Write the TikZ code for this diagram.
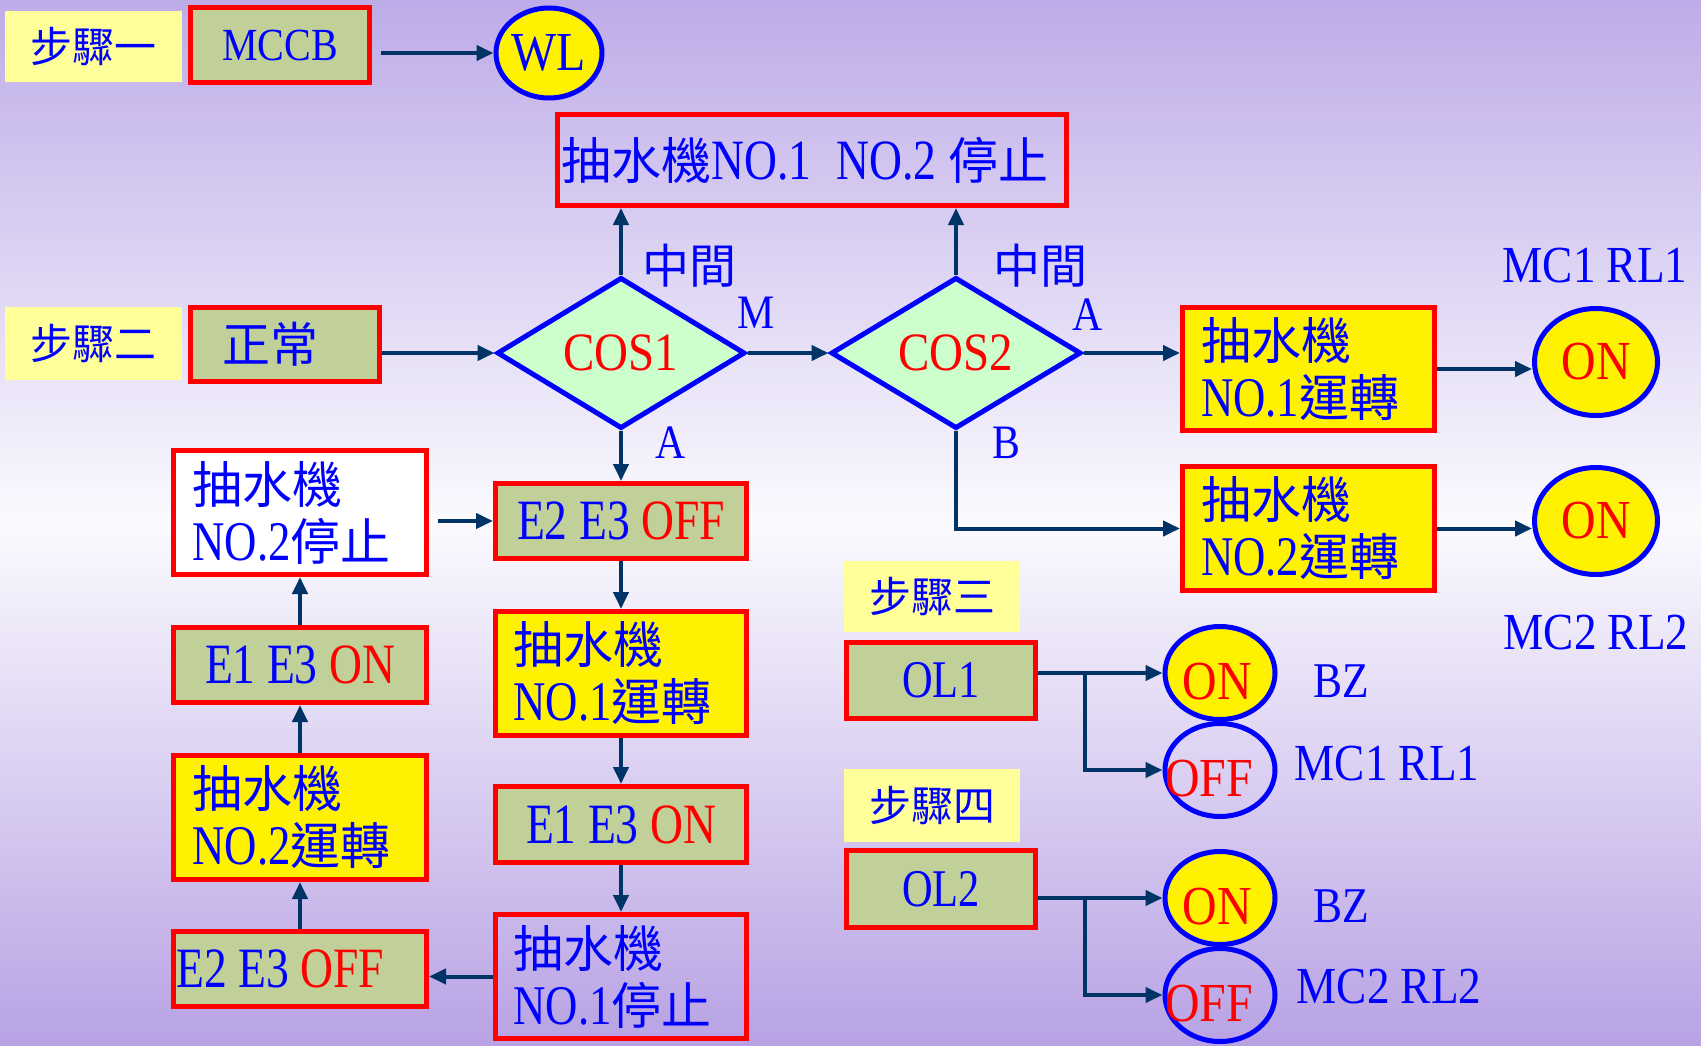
\documentclass[tikz,border=0pt]{standalone}
\usepackage{fontspec}
\setmainfont{Liberation Serif}[FakeStretch=0.87]
\newfontfamily\latn{Liberation Serif}[FakeStretch=0.8]
\newfontfamily\cjk{Noto Sans CJK TC}
\newcommand{\zh}[1]{{\cjk\fontsize{50}{57}\selectfont #1}}
\usetikzlibrary{shapes.geometric,arrows.meta,calc}
\definecolor{boxgreen}{RGB}{192,208,152}
\definecolor{stepyellow}{RGB}{255,255,153}
\definecolor{dgreen}{RGB}{204,255,204}
\definecolor{navy}{RGB}{0,51,102}
\definecolor{bgtop}{RGB}{190,172,232}
\definecolor{bgmid}{RGB}{251,250,254}
\definecolor{bgbot}{RGB}{184,162,228}
\newcommand{\fs}[1]{\fontsize{#1}{#1}\selectfont}
\tikzset{
  box/.style={draw=red, line width=5pt, rectangle, inner sep=0pt, text=blue},
  gbox/.style={box, fill=boxgreen},
  ybox/.style={box, fill=yellow},
  twol/.style={align=flush left, text width=215pt, inner xsep=18pt, font=\latn\fontsize{56}{57}\selectfont},
  ebox/.style={font=\latn\fs{57}},
  stepl/.style={fill=stepyellow, inner sep=0pt, text=blue, font=\cjk\fs{42}},
  dia/.style={diamond, draw=blue, line width=5pt, fill=dgreen, inner sep=0pt, text=red, font=\fs{54}},
  circ/.style={ellipse, draw=blue, line width=5pt, inner sep=0pt, text=red, font=\fs{55}},
  arr/.style={draw=navy, line width=4pt, -{Triangle[length=17pt,width=15pt]}},
  lbl/.style={text=blue, inner sep=0pt, font=\fs{50}},
  cl/.style={text=blue, inner sep=0pt, font=\cjk\fs{47}},
}
\begin{document}
\begin{tikzpicture}[x=1pt,y=-1pt]
\useasboundingbox (0,0) rectangle (1701,1046);
\shade[top color=bgtop, bottom color=bgbot, middle color=bgmid] (0,0) rectangle (1701,1046);

% step 1
\node[stepl, minimum width=177pt, minimum height=71pt] (s1) at (93.5,46.5) {步驟一};
\node[gbox, minimum width=179pt, minimum height=75pt, font=\fs{46}] (mccb) at (280,45) {MCCB};
\node[circ, fill=yellow, minimum width=106pt, minimum height=90pt, text=blue] (wl) at (549,53) {WL};

% top box
\node[box, minimum width=509pt, minimum height=91pt, align=flush left, text width=501pt, inner xsep=4pt, font=\latn\fs{57}] (top) at (812,160) {\zh{抽水機}NO.1\hspace{25pt}NO.2 \zh{停止}};

% step 2
\node[stepl, minimum width=177pt, minimum height=73pt] (s2) at (93.5,343.5) {步驟二};
\node[gbox, minimum width=189pt, minimum height=74pt, align=flush left, text width=125pt, inner xsep=32pt, font=\cjk\fs{48}] (zc) at (285,344.5) {正常};
\node[dia, minimum width=248pt, minimum height=150pt] (cos1) at (621,353) {COS1};
\node[dia, minimum width=250pt, minimum height=150pt] (cos2) at (956,353) {COS2};

\node[cl] (mid1) at (689,266) {中間};
\node[cl] (mid2) at (1040,266) {中間};
\node[lbl, font=\fs{48}] (lm) at (756,313) {M};
\node[lbl, font=\fs{48}] (la2) at (1088,315) {A};
\node[lbl, font=\fs{48}] (la1) at (671,443) {A};
\node[lbl, font=\fs{48}] (lb) at (1006,443) {B};

% right branch
\node[ybox, twol, minimum width=252pt, minimum height=123pt] (r1) at (1308.5,369) {\zh{抽水機}\\NO.1\zh{運轉}};
\node[ybox, twol, minimum width=252pt, minimum height=124pt] (r2) at (1308.5,528.5) {\zh{抽水機}\\NO.2\zh{運轉}};
\node[circ, fill=yellow, minimum width=123pt, minimum height=107pt] (on1) at (1596,362) {ON};
\node[circ, fill=yellow, minimum width=123pt, minimum height=107pt] (on2) at (1596,521) {ON};
\node[lbl, font=\fs{52}] (mc1) at (1595,266) {MC1 RL1};
\node[lbl, font=\fs{52}] (mc2) at (1596,633) {MC2 RL2};

% middle column
\node[gbox, ebox, minimum width=251pt, minimum height=75pt] (b1) at (621,521) {E2 E3 \textcolor{red}{OFF}};
\node[ybox, twol, minimum width=251pt, minimum height=124pt] (b2) at (621,673.5) {\zh{抽水機}\\NO.1\zh{運轉}};
\node[gbox, ebox, minimum width=251pt, minimum height=76pt] (b3) at (621,824.5) {E1 E3 \textcolor{red}{ON}};
\node[box, twol, minimum width=251pt, minimum height=124pt] (b4) at (621,976.5) {\zh{抽水機}\\NO.1\zh{停止}};

% left column
\node[gbox, ebox, minimum width=253pt, minimum height=75pt, align=flush left, text width=247pt, inner xsep=3pt] (l1) at (300,969) {E2 E3 \textcolor{red}{OFF}};
\node[ybox, twol, minimum width=253pt, minimum height=124pt] (l2) at (300,817.5) {\zh{抽水機}\\NO.2\zh{運轉}};
\node[gbox, ebox, minimum width=253pt, minimum height=75pt] (l3) at (300,665) {E1 E3 \textcolor{red}{ON}};
\node[box, fill=white, twol, minimum width=253pt, minimum height=124pt] (l4) at (300,512.5) {\zh{抽水機}\\NO.2\zh{停止}};

% step 3
\node[stepl, minimum width=176pt, minimum height=71pt] (s3) at (932,596.5) {步驟三};
\node[gbox, minimum width=189pt, minimum height=76pt, font=\latn\fs{53}] (ol1) at (941,680.5) {OL1};
\node[circ, fill=yellow, minimum width=110pt, minimum height=93pt] (ol1on) at (1220,673) {};
\node[circ, minimum width=110pt, minimum height=93pt] (ol1off) at (1220,770) {};
\node[lbl, text=red, font=\fs{55}] (ol1ont) at ($(ol1on)+(-3,9)$) {ON};
\node[lbl, text=red, font=\fs{55}] (ol1offt) at ($(ol1off)+(-11,9)$) {OFF};
\node[lbl] (bz1) at (1341,681) {BZ};
\node[lbl, font=\fs{52}] (mc1b) at (1387,764) {MC1 RL1};

% step 4
\node[stepl, minimum width=176pt, minimum height=73pt] (s4) at (932,805.5) {步驟四};
\node[gbox, minimum width=189pt, minimum height=77pt, font=\latn\fs{53}] (ol2) at (941,889) {OL2};
\node[circ, fill=yellow, minimum width=110pt, minimum height=93pt] (ol2on) at (1220,898) {};
\node[circ, minimum width=110pt, minimum height=93pt] (ol2off) at (1220,995) {};
\node[lbl, text=red, font=\fs{55}] (ol2ont) at ($(ol2on)+(-3,9)$) {ON};
\node[lbl, text=red, font=\fs{55}] (ol2offt) at ($(ol2off)+(-11,9)$) {OFF};
\node[lbl] (bz2) at (1341,906) {BZ};
\node[lbl, font=\fs{52}] (mc2b) at (1389,987) {MC2 RL2};

% connectors
\draw[arr, shorten <=9pt] (mccb.east |- wl.west) -- (wl.west);
\draw[arr] (zc.east |- cos1.west) -- (cos1.west);
\draw[arr] (cos1.north) -- (cos1.north |- top.south);
\draw[arr] (cos2.north) -- (cos2.north |- top.south);
\draw[arr] (cos1.east) -- (cos2.west);
\draw[arr] (cos2.east) -- (cos2.east -| r1.west);
\draw[arr] (cos2.south) |- (r2.west);
\draw[arr] (r1.east) -- (r1.east -| on1.west);
\draw[arr] (r2.east) -- (r2.east -| on2.west);
\draw[arr] (cos1.south) -- (b1.north);
\draw[arr] (b1.south) -- (b2.north);
\draw[arr] (b2.south) -- (b3.north);
\draw[arr] (b3.south) -- (b4.north);
\draw[arr] (b4.west) -- (b4.west -| l1.east);
\draw[arr] (l1.north) -- (l2.south);
\draw[arr] (l2.north) -- (l3.south);
\draw[arr] (l3.north) -- (l4.south);
\draw[arr, shorten <=9pt] (l4.east |- b1.west) -- (b1.west);

\coordinate (j1) at (1085,673);
\coordinate (j2) at (1085,898);
\draw[arr] (ol1.east |- ol1on.west) -- (ol1on.west);
\draw[arr] (j1) |- (ol1off.west);
\draw[arr] (ol2.east |- ol2on.west) -- (ol2on.west);
\draw[arr] (j2) |- (ol2off.west);
\end{tikzpicture}
\end{document}
